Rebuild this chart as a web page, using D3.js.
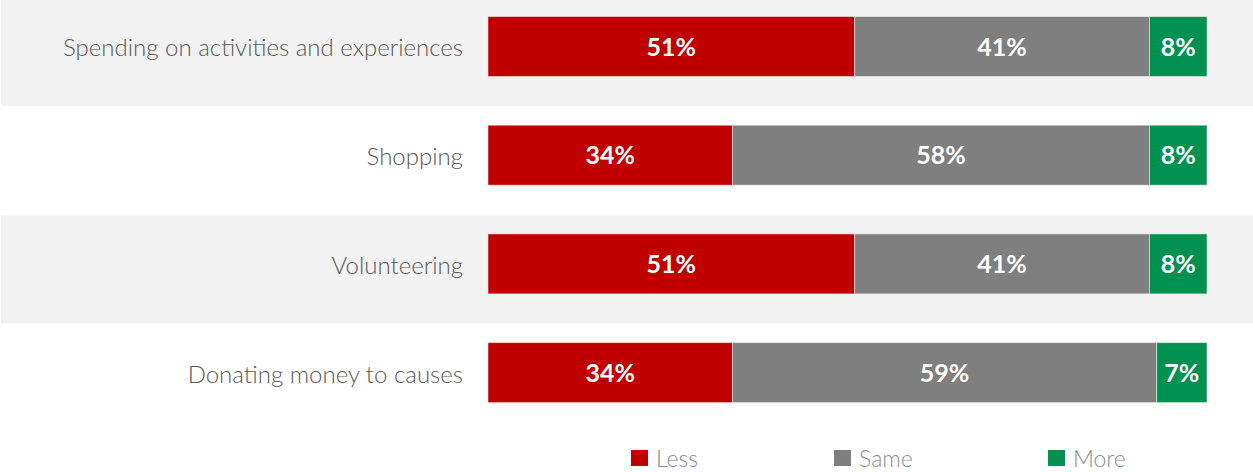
<!DOCTYPE html>
<html><head><meta charset="utf-8">
<script src="https://cdn.jsdelivr.net/npm/d3@7"></script>
<style>body{margin:0;background:#fff}svg{display:block}</style>
</head><body>
<script>
const categories = ["Spending on activities and experiences","Shopping","Volunteering","Donating money to causes"];
const seriesNames = ["Less","Same","More"];
const less = [51,34,51,34];
const same = [41,58,41,59];
const more = [8,8,8,7];
const colors = ["#c00000","#7f7f7f","#00904f"];

const W=1253,H=472;
const svg=d3.select("body").append("svg").attr("width",W).attr("height",H);
const y=d3.scaleBand().domain(categories).range([-2,-2+4*108.7]).paddingInner(0).paddingOuter(0);
const x=d3.scaleLinear().domain([0,100]).range([488,1207]);
const barH=60, barOff=18.5;
const bc=d=>y(d)+barOff+barH/2;

// background bands
svg.selectAll("rect.band").data(categories.filter((d,i)=>i%2===0)).join("rect")
  .attr("x",1).attr("width",W-1).attr("y",d=>y(d)).attr("height",108)
  .attr("fill","#f2f2f2");

const data=categories.map((c,i)=>({cat:c,Less:less[i],Same:same[i],More:more[i]}));
const stacked=d3.stack().keys(seriesNames)(data);
const g=svg.append("g");
stacked.forEach((s,si)=>{
  const gg=g.append("g");
  gg.selectAll("rect").data(s).join("rect")
    .attr("x",d=>x(d[0])).attr("width",d=>x(d[1])-x(d[0]))
    .attr("y",d=>y(d.data.cat)+barOff).attr("height",barH)
    .attr("fill",colors[si]).attr("stroke","rgba(255,255,255,0.5)").attr("stroke-width",1);
  gg.selectAll("text").data(s).join("text")
    .attr("x",d=>(x(d[0])+x(d[1]))/2).attr("y",d=>bc(d.data.cat))
    .attr("text-anchor","middle").attr("dy","0.36em")
    .attr("font-family","Lato, 'Open Sans', sans-serif").attr("font-weight","bold").attr("font-size",25)
    .attr("fill","#fff").text(d=>(d[1]-d[0])+"%");
});
// category labels
svg.selectAll("text.cat").data(categories).join("text")
  .attr("x",463).attr("y",d=>bc(d)+2).attr("dy","0.33em")
  .attr("text-anchor","end").attr("font-family","Lato, 'Open Sans', sans-serif").attr("font-weight",300)
  .attr("font-size",24).attr("fill","#595959").text(d=>d);

// legend
const legX=[631,834,1048];
const leg=svg.selectAll("g.leg").data(seriesNames).join("g").attr("transform",(d,i)=>`translate(${legX[i]},450)`);
leg.append("rect").attr("width",17).attr("height",16).attr("fill",(d,i)=>colors[i]);
leg.append("text").attr("x",25).attr("y",8).attr("dy","0.38em").attr("font-family","Lato, 'Open Sans', sans-serif")
  .attr("font-weight",300).attr("font-size",23).attr("fill","#8c8c8c").text(d=>d);
</script>
</body></html>
